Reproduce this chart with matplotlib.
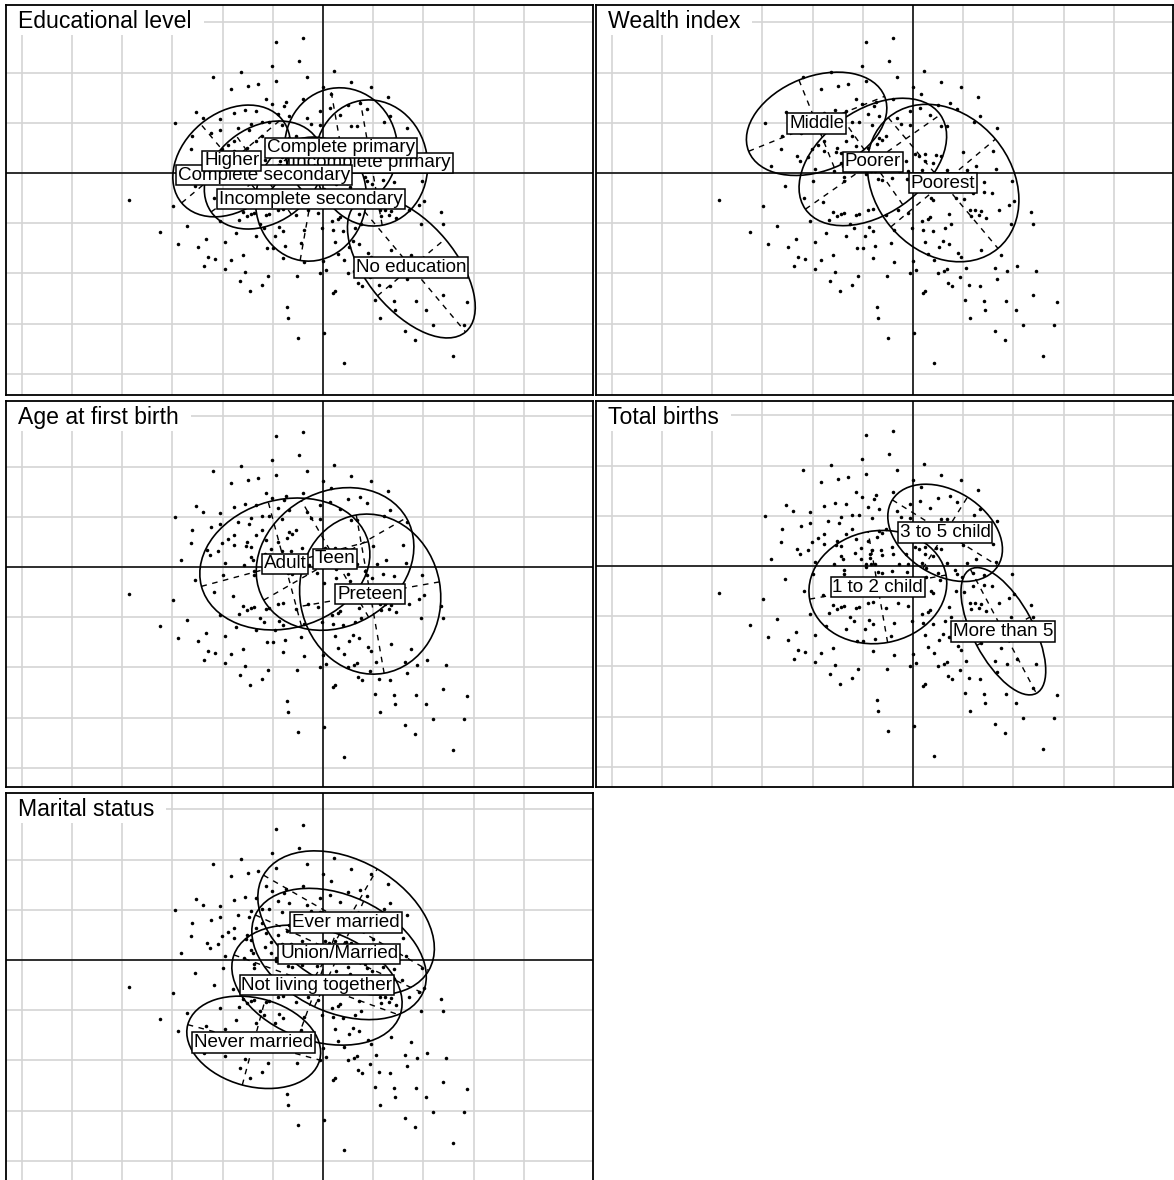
"""Class scatter plots (ade4 s.class style) for five survey factors."""

import matplotlib

matplotlib.use("Agg")
import matplotlib.pyplot as plt
import numpy as np
from matplotlib.patches import Ellipse, Rectangle
from matplotlib.transforms import IdentityTransform, offset_copy

plt.rcParams["font.family"] = ["Liberation Sans", "DejaVu Sans"]

# row scores (same cloud in every panel)
score_x = [
    -0.47, -0.51, -0.82, -1.10, -0.47, -0.92, -0.75, -0.65, -0.57, -0.51,
    -0.39, -0.37, -1.26, -0.78, -0.67, -0.89, -0.45, -1.20, -1.03, -0.61,
    -0.54, -0.41, -1.47, -0.72, -0.85, -0.74, -1.03, -1.12, -1.30, -0.61,
    -0.89, -0.95, -0.67, -0.57, -0.45, -0.36, -1.31, -1.01, -0.89, -0.77,
    -0.72, -0.76, -1.16, -1.05, -0.52, -0.41, -1.13, -0.58, -0.43, -0.72,
    -0.70, -0.52, -0.43, -1.41, -0.98, -0.79, -0.47, -0.42, -0.38, -0.69,
    -1.00, -1.27, -0.69, -0.47, -0.35,
    -0.20, -0.24, -0.16, 0.11, 0.28, 0.48, 0.00, -0.20, 0.08, 0.65,
    0.25, 0.37, 0.44, -0.03, 0.07, 0.17, -0.34, -0.16, 0.67, 0.61,
    0.28, 0.34, -0.03, -0.12, 0.84, -0.34, -0.31, -0.27, 0.80, 0.50,
    -0.21, 0.02, 0.06, 0.12, 0.23, 0.28, -0.32, -0.31, -0.20, -0.07,
    0.12, 0.20, 0.54, 0.63, 0.83, 0.42, 0.34, -0.14, -0.05, 0.09,
    0.13, -0.31, -0.21, -0.06, 0.13, 0.25, 0.44, 0.49, 0.60, 0.71,
    0.99, 0.27, 0.01,
    -1.93, -1.49, -1.09, -0.90, -1.03, -0.80, -0.76, -0.72, -0.69, -0.57,
    -0.54, -0.45, -0.40, -0.84, -0.63, -0.59, -0.44, -0.40, -0.87, -0.67,
    -0.48, -0.38, -0.56, -0.50, -1.62, -1.35, -1.44, -1.25, -1.17, -0.98,
    -0.80, -1.15, -1.08, -0.92, -1.19, -0.98, -0.40, -0.78, -0.55, -0.83,
    -0.61, -0.73, -0.36, -0.35,
    0.18, 0.20, 0.43, 0.51, 0.60, 0.71, 0.79, 1.01, 0.57, 0.62,
    0.68, 0.86, 0.96, 1.18, 0.58, 0.66, 0.73, 0.36, 0.17, 0.15,
    0.09, -0.05, -0.15, -0.27, 0.38, 0.32, 0.20, 0.10, -0.01, -0.19,
    1.20, 0.98, 0.30, 0.26, 0.12, 0.36, -0.22, -0.19, 0.00, 0.15,
    0.21, 0.45, 0.48, 0.68, 0.88, 1.04, 0.82, 0.94, 1.23, 0.53,
    0.34, 0.31, 0.25, 0.03, -0.03, -0.26, 0.47, 0.84, 0.35, 0.39,
    0.56, 0.67, 0.12, 0.10, 1.20, 0.71, 0.93, 0.52, 1.43, 0.72,
    1.03, 0.57, 1.10, 1.40, 0.82, 0.01, -0.25, 0.92, 1.29, 0.21,
]
score_y = [
    1.30, 1.07, 1.01, 0.96, 0.92, 0.84, 0.87, 0.89, 0.74, 0.69,
    0.67, 0.71, 0.61, 0.63, 0.62, 0.60, 0.59, 0.55, 0.54, 0.51,
    0.51, 0.48, 0.50, 0.49, 0.45, 0.43, 0.43, 0.40, 0.37, 0.37,
    0.32, 0.28, 0.32, 0.27, 0.25, 0.29, 0.24, 0.24, 0.22, 0.21,
    0.20, 0.25, 0.17, 0.16, 0.18, 0.16, 0.12, 0.13, 0.12, 0.10,
    0.07, 0.07, 0.08, 0.07, 0.04, 0.02, 0.02, 0.02, 0.02, -0.04,
    -0.08, -0.13, -0.08, -0.01, -0.06,
    1.34, 1.12, 0.96, 1.02, 0.91, 0.86, 0.86, 0.74, 0.79, 0.76,
    0.68, 0.70, 0.64, 0.62, 0.65, 0.58, 0.57, 0.55, 0.57, 0.51,
    0.47, 0.47, 0.48, 0.49, 0.45, 0.35, 0.33, 0.37, 0.22, 0.21,
    0.19, 0.19, 0.17, 0.19, 0.18, 0.17, 0.16, 0.11, 0.12, 0.12,
    0.12, 0.10, 0.03, 0.07, 0.04, -0.04, 0.03, 0.02, 0.02, 0.03,
    -0.02, -0.07, -0.05, -0.06, -0.11, -0.07, -0.08, -0.11, -0.07, -0.09,
    -0.08, -0.14, -0.16,
    -0.27, -0.33, -0.25, -0.29, -0.48, -0.39, -0.43, -0.41, -0.40, -0.42,
    -0.41, -0.37, -0.36, -0.47, -0.51, -0.55, -0.54, -0.58, -0.60, -0.63,
    -0.63, -0.73, -0.75, -0.75, -0.59, -0.53, -0.71, -0.74, -0.66, -0.69,
    -0.82, -0.84, -0.86, -0.87, -0.93, -0.96, -0.85, -0.99, -1.03, -1.08,
    -1.12, -1.18, -1.33, -1.44,
    -0.25, -0.27, -0.25, -0.26, -0.20, -0.19, -0.20, -0.28, -0.37, -0.37,
    -0.38, -0.37, -0.32, -0.39, -0.43, -0.42, -0.45, -0.41, -0.44, -0.46,
    -0.48, -0.40, -0.37, -0.42, -0.51, -0.55, -0.58, -0.57, -0.55, -0.57,
    -0.51, -0.51, -0.68, -0.74, -0.69, -0.71, -0.70, -0.89, -0.88, -0.81,
    -0.87, -0.80, -0.84, -0.77, -0.82, -0.93, -0.95, -0.98, -0.98, -0.95,
    -0.96, -0.98, -1.00, -0.97, -1.00, -1.03, -1.04, -1.06, -1.10, -1.13,
    -1.12, -1.13, -1.18, -1.20, -1.22, -1.27, -1.27, -1.26, -1.28, -1.36,
    -1.36, -1.44, -1.51, -1.51, -1.57, -1.59, -1.64, -1.66, -1.82, -1.89,
]

# group means and ellipse shapes, per factor (drawing order)
edu_names = ["Incomplete primary", "Complete secondary", "Complete primary",
             "Higher", "Incomplete secondary", "No education"]
edu_cx = [0.48, -0.59, 0.18, -0.91, -0.12, 0.88]
edu_cy = [0.10, -0.02, 0.25, 0.12, -0.26, -0.94]
edu_a = [0.63, 0.64, 0.60, 0.65, 0.62, 0.84]
edu_b = [0.56, 0.48, 0.56, 0.48, 0.55, 0.44]
edu_angle = [100, 35, 100, 40, 80, -50]

wealth_names = ["Middle", "Poorer", "Poorest"]
wealth_cx = [-0.96, -0.40, 0.30]
wealth_cy = [0.49, 0.11, -0.10]
wealth_a = [0.73, 0.82, 0.85]
wealth_b = [0.47, 0.52, 0.68]
wealth_angle = [22, 35, -50]

age_names = ["Adult", "Teen", "Preteen"]
age_cx = [-0.38, 0.12, 0.47]
age_cy = [0.03, 0.08, -0.27]
age_a = [0.86, 0.82, 0.80]
age_b = [0.64, 0.67, 0.70]
age_angle = [15, 30, 100]

births_names = ["3 to 5 child", "1 to 2 child", "More than 5"]
births_cx = [0.32, -0.35, 0.90]
births_cy = [0.33, -0.21, -0.65]
births_a = [0.62, 0.69, 0.70]
births_b = [0.42, 0.56, 0.30]
births_angle = [-32, 10, -62]

marital_names = ["Ever married", "Union/Married", "Not living together",
                 "Never married"]
marital_cx = [0.23, 0.16, -0.06, -0.69]
marital_cy = [0.37, 0.06, -0.25, -0.82]
marital_a = [0.95, 0.92, 0.88, 0.68]
marital_b = [0.62, 0.58, 0.55, 0.44]
marital_angle = [-30, -25, -20, -15]

FIG_W, FIG_H, DPI = 1174, 1180, 100
PX_PER_UNIT = 100.4
GRID_X = np.arange(-3.0, 2.01, 0.5)
GRID_Y = np.arange(-2.0, 1.51, 0.5)
DASH = (0, (4, 4))


def make_axes(fig, left, top, right, bottom, ox, oy):
    """Axes placed in pixel coords, origin of the scores at (ox, oy)."""
    ax = fig.add_axes([left / FIG_W, 1 - bottom / FIG_H,
                       (right - left) / FIG_W, (bottom - top) / FIG_H])
    ax.set_xlim((left - ox) / PX_PER_UNIT, (right - ox) / PX_PER_UNIT)
    ax.set_ylim((oy - bottom) / PX_PER_UNIT, (oy - top) / PX_PER_UNIT)
    ax.set_xticks([])
    ax.set_yticks([])
    for spine in ax.spines.values():
        spine.set_linewidth(1.3)
    return ax


def draw_panel(fig, ax, title, names, cx, cy, semi_a, semi_b, angles):
    for gx in GRID_X:
        ax.axvline(gx, color="#d4d4d4", lw=1.2, zorder=0.5)
    for gy in GRID_Y:
        ax.axhline(gy, color="#d4d4d4", lw=1.2, zorder=0.5)
    ax.axhline(0, color="black", lw=1.1, zorder=1.5)
    ax.axvline(0, color="black", lw=1.1, zorder=1.5)

    ax.scatter(score_x, score_y, s=6.5, c="black", linewidths=0, zorder=3)

    for x, y, a, b, ang in zip(cx, cy, semi_a, semi_b, angles):
        ax.add_patch(Ellipse((x, y), 2 * a, 2 * b, angle=ang, fill=False,
                             ec="black", lw=1.2, zorder=3.5))
        t = np.deg2rad(ang)
        ax.plot([x - a * np.cos(t), x + a * np.cos(t)],
                [y - a * np.sin(t), y + a * np.sin(t)],
                color="black", lw=1.0, ls=DASH, zorder=3.5)
        ax.plot([x + b * np.sin(t), x - b * np.sin(t)],
                [y - b * np.cos(t), y + b * np.cos(t)],
                color="black", lw=1.0, ls=DASH, zorder=3.5)

    for i, (name, x, y) in enumerate(zip(names, cx, cy)):
        ax.text(x, y, name, ha="center", va="center", fontsize=13.6,
                zorder=5 + i,
                bbox=dict(boxstyle="square,pad=0.1", fc="white",
                          ec="black", lw=1.1))

    # panel title in a white box at the top-left corner
    trans = offset_copy(ax.transAxes, fig=fig, x=12, y=-22.7, units="dots")
    txt = ax.text(0, 1, title, transform=trans, ha="left", va="baseline",
                  fontsize=16.6, zorder=2.3)
    renderer = fig.canvas.get_renderer()
    tb = txt.get_window_extent(renderer)
    ab = ax.get_window_extent(renderer)
    ax.add_patch(Rectangle((ab.x0, ab.y1 - 30), tb.x1 + 12 - ab.x0, 30,
                           transform=IdentityTransform(), fc="white",
                           ec="none", zorder=2.2))


fig = plt.figure(figsize=(FIG_W / DPI, FIG_H / DPI), dpi=DPI)

ax1 = make_axes(fig, 6, 5, 593, 395, 323, 173)
draw_panel(fig, ax1, "Educational level", edu_names, edu_cx, edu_cy,
           edu_a, edu_b, edu_angle)

ax2 = make_axes(fig, 596, 5, 1173, 395, 913, 173)
draw_panel(fig, ax2, "Wealth index", wealth_names, wealth_cx, wealth_cy,
           wealth_a, wealth_b, wealth_angle)

ax3 = make_axes(fig, 6, 401, 593, 787, 323, 567)
draw_panel(fig, ax3, "Age at first birth", age_names, age_cx, age_cy,
           age_a, age_b, age_angle)

ax4 = make_axes(fig, 596, 401, 1173, 787, 913, 566)
draw_panel(fig, ax4, "Total births", births_names, births_cx, births_cy,
           births_a, births_b, births_angle)

ax5 = make_axes(fig, 6, 793, 593, 1182, 323, 960)
draw_panel(fig, ax5, "Marital status", marital_names, marital_cx, marital_cy,
           marital_a, marital_b, marital_angle)

fig.savefig("out.png", dpi=DPI)
plt.close(fig)
